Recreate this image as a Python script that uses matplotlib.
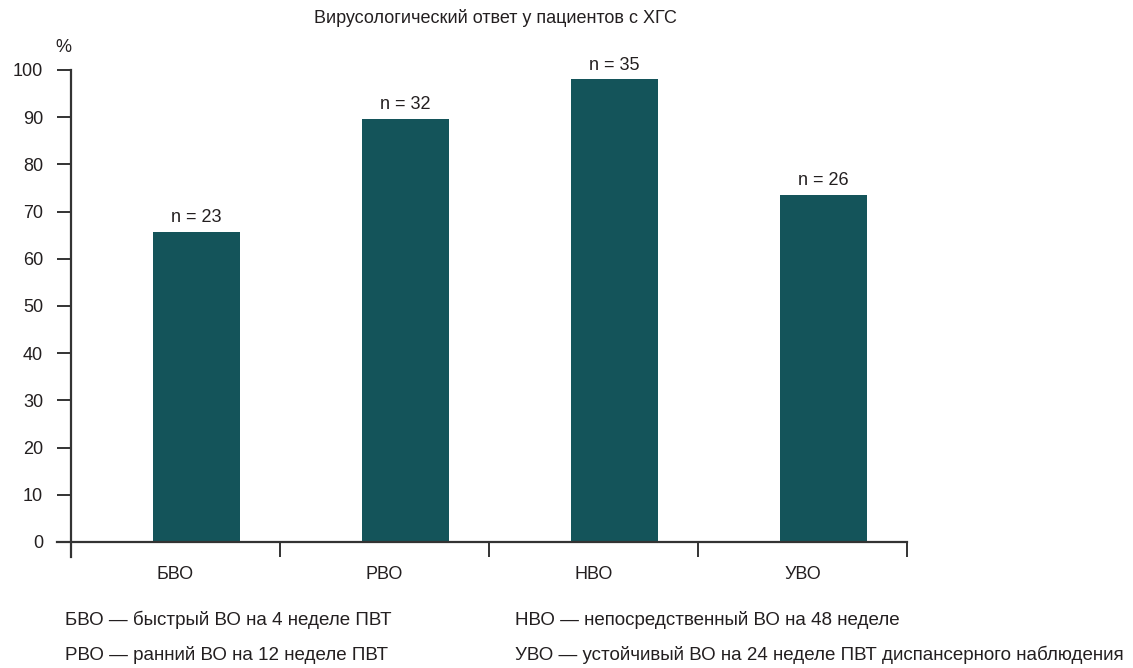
import matplotlib
matplotlib.use("Agg")
import matplotlib.pyplot as plt
from matplotlib.lines import Line2D

categories = ["БВО", "РВО", "НВО", "УВО"]
values = [65.7, 89.7, 98.0, 73.6]
n_labels = ["n = 23", "n = 32", "n = 35", "n = 26"]
y_ticks = [0, 10, 20, 30, 40, 50, 60, 70, 80, 90, 100]
notes_left = ["БВО — быстрый ВО на 4 неделе ПВТ", "РВО — ранний ВО на 12 неделе ПВТ"]
notes_right = ["НВО — непосредственный ВО на 48 неделе",
               "УВО — устойчивый ВО на 24 неделе ПВТ диспансерного наблюдения"]
title = "Вирусологический ответ у пациентов с ХГС"

bar_color = "#14545a"
text_color = "#231f20"
axis_color = "#333333"
fs = 13
plt.rcParams["font.family"] = ["Liberation Sans", "DejaVu Sans"]

W, H = 1133, 668
fig = plt.figure(figsize=(W / 100, H / 100), dpi=100)
ax = fig.add_axes([71 / W, 1 - 542 / H, (907 - 71) / W, (542 - 70) / H])

x = list(range(len(categories)))
bar_shift = 0.1  # bars sit a bit right of the group centre
ax.bar([i + bar_shift for i in x], values, width=0.417, color=bar_color, zorder=2)
for i, (v, lab) in enumerate(zip(values, n_labels)):
    ax.annotate(lab, (i + bar_shift, v), xytext=(0, 4), textcoords="offset points",
                ha="center", va="bottom", fontsize=fs, color=text_color)

ax.set_xlim(-0.5, len(categories) - 0.5)
ax.set_ylim(0, 100)
ax.set_yticks(y_ticks)
ax.tick_params(axis="y", length=10, width=1.4, color=axis_color, pad=10,
               labelsize=fs, labelcolor=text_color)
ax.set_xticks(x)
ax.set_xticklabels(categories)
ax.tick_params(axis="x", which="major", length=0, pad=17, labelsize=fs, labelcolor=text_color)
ax.set_xticks([i + 0.5 for i in x], minor=True)
ax.tick_params(axis="x", which="minor", length=11, width=1.4, color=axis_color, direction="out")

for s in ax.spines.values():
    s.set_visible(False)
# axis lines drawn by hand so they overhang like the original
ax.add_line(Line2D([0, 0], [-15 / 472, 1], transform=ax.transAxes, color=axis_color,
                   lw=1.6, clip_on=False, zorder=3))
ax.add_line(Line2D([-14 / 836, 1], [0, 0], transform=ax.transAxes, color=axis_color,
                   lw=1.6, clip_on=False, zorder=3))

fig.text(495 / W, 1 - 18 / H, title, ha="center", va="center", fontsize=fs, color=text_color)
fig.text(63 / W, 1 - 47 / H, "%", ha="center", va="center", fontsize=fs, color=text_color)
for j, t in enumerate(notes_left):
    fig.text(65 / W, 1 - (620 + 35 * j) / H, t, ha="left", va="center", fontsize=13.5, color=text_color)
for j, t in enumerate(notes_right):
    fig.text(515 / W, 1 - (620 + 35 * j) / H, t, ha="left", va="center", fontsize=13.5, color=text_color)

fig.savefig("out.png", dpi=100)
